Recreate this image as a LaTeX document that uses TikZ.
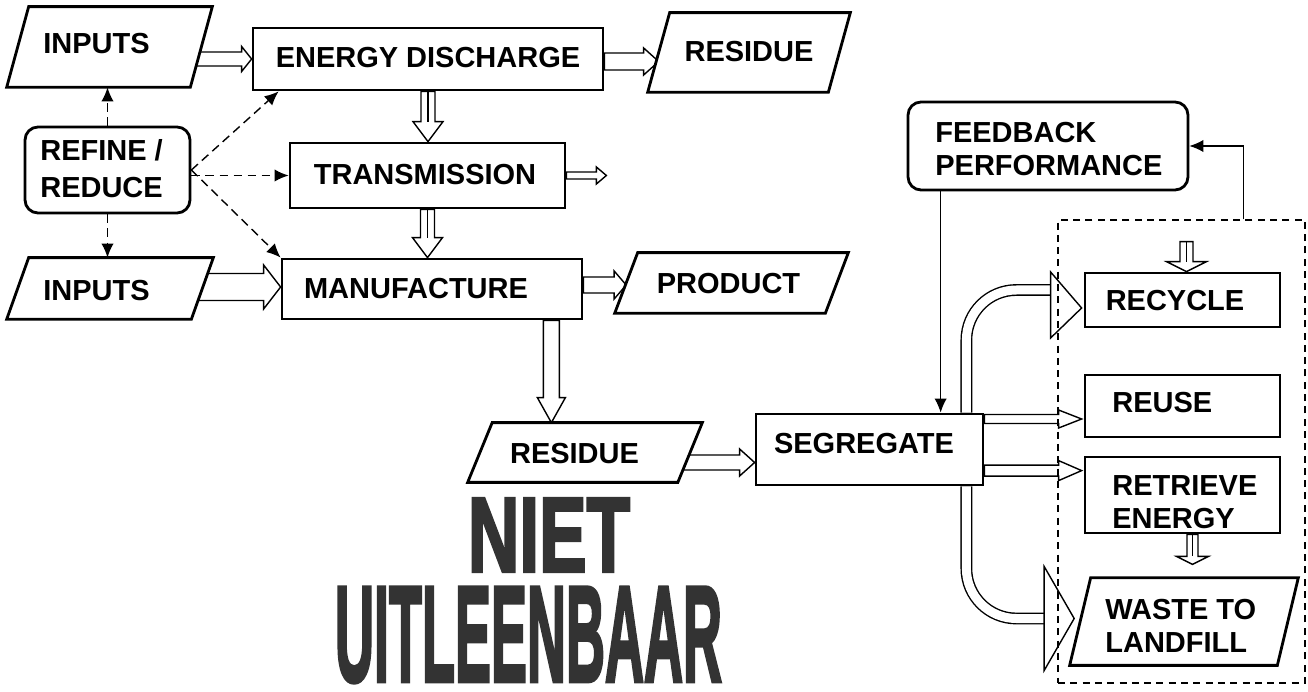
\documentclass[tikz,border=0pt]{standalone}
\usepackage{graphicx}
\usepackage{fontspec}
\setmainfont{Liberation Sans}
\newfontfamily\stampfont{Liberation Sans}[FakeBold=3]
\usetikzlibrary{arrows.meta,calc,backgrounds}

% hollow block arrow: start, tip, shaft half width, head half width, head length
\newcommand\hollowarrow[5]{%
  \coordinate (hA) at (#1);
  \coordinate (hB) at (#2);
  \coordinate (hH) at ($(hB)!#5!(hA)$);
  \draw[harrow] ($(hA)!#3!90:(hB)$) -- ($(hH)!#3!90:(hB)$) -- ($(hH)!#4!90:(hB)$)
    -- (hB) -- ($(hH)!#4!-90:(hB)$) -- ($(hH)!#3!-90:(hB)$) -- ($(hA)!#3!-90:(hB)$) -- cycle;
}
% the same with a centre line along the shaft
\newcommand\hollowarrowlined[5]{%
  \hollowarrow{#1}{#2}{#3}{#4}{#5}
  \draw[line width=0.7pt] (hA) -- (hH);
}
% parallelogram: name, centre, body width, height, half of the slant
\newcommand\parabox[5]{%
  \node[inner sep=0pt, minimum width=#3, minimum height=#4] (#1) at (#2) {};
  \draw[paraline] ($(#1.south west)+(-#5,0)$) -- ($(#1.north west)+(#5,0)$)
    -- ($(#1.north east)+(#5,0)$) -- ($(#1.south east)+(-#5,0)$) -- cycle;
}

\tikzset{
  box/.style={draw, line width=1.6pt, fill=white, inner sep=0pt},
  rbox/.style={box, rounded corners=0.26cm},
  paraline/.style={draw, line width=1.6pt, fill=white, line join=miter},
  txt/.style={font=\bfseries\fontsize{16.5}{18.8}\selectfont, inner sep=0pt, align=left},
  harrow/.style={draw, fill=white, line width=0.8pt, line join=miter},
  guide/.style={draw, dash pattern=on 5pt off 3pt, line width=0.8pt, -{Latex[length=8pt,width=7pt]}},
  link/.style={draw, line width=0.7pt, -{Latex[length=8pt,width=7pt]}},
  curvearrow/.style={draw, double=white, double distance=0.18cm, line width=0.8pt, rounded corners=1cm},
}

\begin{document}
\begin{tikzpicture}[x=0.02cm,y=-0.02cm]
\useasboundingbox (0,0) rectangle (1308,692);

% process boxes
\parabox{in1}{109.5,47}{3.66cm}{1.6cm}{11}
\node[box, minimum width=7.0cm, minimum height=1.24cm] (ed) at (428,59) {};
\parabox{res1}{749,52.5}{3.6cm}{1.58cm}{11}
\node[rbox, minimum width=3.3cm, minimum height=1.72cm] (rr) at (107.5,170) {};
\node[box, minimum width=5.5cm, minimum height=1.3cm] (tr) at (427.5,175.5) {};
\node[box, minimum width=6.0cm, minimum height=1.2cm] (mf) at (432,289) {};
\parabox{in2}{110,288.5}{3.68cm}{1.22cm}{11}
\parabox{pr}{731.5,283}{4.2cm}{1.2cm}{11.5}
\parabox{res2}{585,452.5}{4.19cm}{1.18cm}{12.25}
\node[box, minimum width=4.54cm, minimum height=1.42cm] (seg) at (869.5,449.5) {};
\node[rbox, minimum width=5.6cm, minimum height=1.76cm] (fb) at (1048,146) {};
\node[draw, dash pattern=on 4pt off 3pt, line width=0.8pt, minimum width=4.94cm, minimum height=9.26cm, inner sep=0pt] (zone) at (1181.5,451.5) {};
\node[box, minimum width=3.9cm, minimum height=1.08cm] (rc) at (1182.5,300) {};
\node[box, minimum width=3.9cm, minimum height=1.24cm] (ru) at (1182.5,406) {};
\node[box, minimum width=3.9cm, minimum height=1.52cm] (re) at (1182.5,495) {};
\parabox{wl}{1184,621.5}{4.14cm}{1.74cm}{10.5}

% labels
\node[txt] (in1t) at (96.5,44) {INPUTS};
\node[txt] (edt) at (428,58) {ENERGY DISCHARGE};
\node[txt] (res1t) at (749,52) {RESIDUE};
\node[txt, anchor=west, font=\bfseries\fontsize{16.5}{21}\selectfont] (rrt) at (40,169) {REFINE /\\REDUCE};
\node[txt] (trt) at (425,175) {TRANSMISSION};
\node[txt] (mft) at (416,289) {MANUFACTURE};
\node[txt] (in2t) at (96.5,291) {INPUTS};
\node[txt] (prt) at (728.5,284) {PRODUCT};
\node[txt] (res2t) at (574.5,454) {RESIDUE};
\node[txt] (segt) at (864,444) {SEGREGATE};
\node[txt, anchor=west] (fbt) at (935,149) {FEEDBACK\\PERFORMANCE};
\node[txt] (rct) at (1175,301) {RECYCLE};
\node[txt, anchor=west] (rut) at (1112,403) {REUSE};
\node[txt, anchor=west] (ret) at (1112,502) {RETRIEVE\\ENERGY};
\node[txt, anchor=west] (wlt) at (1105,626) {WASTE TO\\LANDFILL};

% stamp
\node[inner sep=0pt, text=black!80] (stamp1) at (549,535) {\resizebox{3.24cm}{1.46cm}{\stampfont\bfseries NIET}};
\node[inner sep=0pt, text=black!80] (stamp2) at (528.5,635) {\resizebox{7.74cm}{1.88cm}{\stampfont\bfseries UITLEENBAAR}};

% block arrows, behind the boxes
\begin{scope}[on background layer]
  \hollowarrow{ed.west -| in1.center}{ed.west}{0.14cm}{0.25cm}{0.2cm}
  \coordinate (edout) at ($(ed.east)+(0,2.5)$);
  \hollowarrow{edout}{edout -| res1.west}{0.17cm}{0.27cm}{0.3cm}
  \hollowarrowlined{ed.south}{ed.south |- tr.north}{0.14cm}{0.3cm}{0.4cm}
  \coordinate (trout) at ($(tr.east)+(40,0)$);
  \hollowarrow{tr.east}{trout}{0.07cm}{0.17cm}{0.2cm}
  \hollowarrowlined{tr.south}{tr.south |- mf.north}{0.14cm}{0.3cm}{0.4cm}
  \coordinate (mfin) at ($(mf.west)+(0,-2)$);
  \hollowarrow{mfin -| in2.center}{mfin}{0.27cm}{0.44cm}{0.34cm}
  \coordinate (mfout) at ($(mf.east)+(0,-4)$);
  \hollowarrow{mfout}{mfout -| pr.west}{0.16cm}{0.28cm}{0.24cm}
  \coordinate (mfdown) at ($(mf.south east)+(-32,0)$);
  \hollowarrow{mfdown}{mfdown |- res2.north}{0.16cm}{0.28cm}{0.5cm}
  \coordinate (segin) at ($(seg.west)+(0,13)$);
  \hollowarrow{segin -| res2.center}{segin}{0.15cm}{0.27cm}{0.3cm}
  \coordinate (ruin) at ($(ru.west)+(-2,13)$);
  \hollowarrow{ruin -| seg.east}{ruin}{0.09cm}{0.18cm}{0.46cm}
  \coordinate (rein) at ($(re.north west)+(-2,15)$);
  \hollowarrow{rein -| seg.east}{rein}{0.11cm}{0.2cm}{0.46cm}
  \coordinate (rcin) at ($(rc.north)+(4,0)$);
  \coordinate (rctop) at ($(rcin)+(0,-30)$);
  \hollowarrowlined{rctop}{rcin}{0.13cm}{0.4cm}{0.2cm}
  \coordinate (reout) at ($(re.south)+(10,0)$);
  \coordinate (wlin) at ($(reout)+(0,30)$);
  \hollowarrowlined{reout}{wlin}{0.11cm}{0.32cm}{0.16cm}
  % curved outlets of the segregation step
  \coordinate (upstart) at ($(seg.north east)+(-18,0)$);
  \coordinate (uptip) at ($(rc.west)+(-2,8)$);
  \coordinate (upbase) at ($(uptip)+(-31,-18)$);
  \draw[curvearrow] (upstart) |- (upbase);
  \draw[harrow] ($(uptip)+(-31,-36)$) -- (uptip) -- ($(uptip)+(-31,30)$) -- cycle;
  \coordinate (dnstart) at ($(seg.south east)+(-18,0)$);
  \coordinate (dntip) at ($(wl.west)+(-6,-3)$);
  \coordinate (dnbase) at ($(dntip)+(-30,0)$);
  \draw[curvearrow] (dnstart) |- (dnbase);
  \draw[harrow] ($(dntip)+(-30,-52)$) -- (dntip) -- ($(dntip)+(-30,52)$) -- cycle;
\end{scope}

% control links
\draw[guide] (rr.north) -- (rr.north |- in1.south);
\draw[guide] (rr.south) -- (rr.south |- in2.north);
\draw[guide] (rr.east) -- ($(ed.south west)+(27,0)$);
\draw[guide] (rr.east |- tr.west) -- (tr.west);
\draw[guide] (rr.east) -- (mf.north west);
\coordinate (fbdown) at ($(fb.south west)+(34,0)$);
\draw[link] (fbdown) -- (fbdown |- seg.north);
\coordinate (zoneup) at ($(zone.north east)+(-62,0)$);
\draw[link] (zoneup) |- (fb.east);
\end{tikzpicture}
\end{document}
